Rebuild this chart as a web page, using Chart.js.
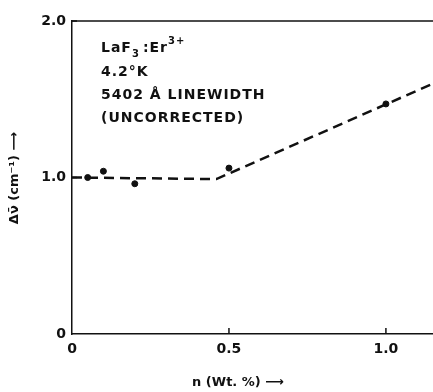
<!DOCTYPE html>
<html>
<head>
<meta charset="utf-8">
<script src="https://cdn.jsdelivr.net/npm/chart.js@4.4.0/dist/chart.umd.min.js"></script>
<style>
  html, body { margin: 0; padding: 0; background: #fff; }
  #wrap { width: 433px; height: 392px; position: relative; }
</style>
</head>
<body>
<div id="wrap"><canvas id="chart"></canvas></div>
<script>
// LaF3:Er3+ linewidth vs concentration

const concentration = [0.05, 0.1, 0.2, 0.5, 1.0];   // n (Wt.%)
const linewidth = [1.0, 1.04, 0.96, 1.06, 1.47];     // cm^-1
const fitX = [0, 0.46, 1.15];
const fitY = [1.0, 0.99, 1.6];
const xTicks = [0, 0.5, 1.0];
const yTicks = [0, 1.0, 2.0];
const noteLines = ['4.2°K', '5402 Å LINEWIDTH', '(UNCORRECTED)'];

const FONT = 'DejaVu Sans';

const pointData = concentration.map((x, i) => ({ x: x, y: linewidth[i] }));
const fitData = fitX.map((x, i) => ({ x: x, y: fitY[i] }));

// frame, inward ticks, annotation and axis titles
const decorPlugin = {
    id: 'decor',
    afterDraw(chart) {
        const ctx = chart.ctx;
        const area = chart.chartArea;
        const xs = chart.scales.x;
        const ys = chart.scales.y;

        ctx.save();
        ctx.strokeStyle = '#111';
        ctx.lineWidth = 1.5;

        // top frame line
        ctx.beginPath();
        ctx.moveTo(area.left, area.top);
        ctx.lineTo(area.right, area.top);
        ctx.stroke();

        // inward tick marks
        xTicks.forEach(v => {
            if (v === 0) return;
            const px = xs.getPixelForValue(v);
            ctx.beginPath();
            ctx.moveTo(px, area.bottom);
            ctx.lineTo(px, area.bottom - 6);
            ctx.stroke();
        });
        yTicks.forEach(v => {
            if (v === 0) return;
            const py = ys.getPixelForValue(v);
            ctx.beginPath();
            ctx.moveTo(area.left, py);
            ctx.lineTo(area.left + 5, py);
            ctx.stroke();
        });

        // annotation
        ctx.fillStyle = '#111';
        ctx.textBaseline = 'alphabetic';
        ctx.textAlign = 'left';
        ctx.letterSpacing = '1px';
        ctx.font = 'bold 14px ' + FONT;
        let tx = 101;
        ctx.fillText('LaF', tx, 52);
        tx += ctx.measureText('LaF').width;
        ctx.font = 'bold 10px ' + FONT;
        ctx.fillText('3', tx, 57);
        tx += ctx.measureText('3').width + 3;
        ctx.font = 'bold 14px ' + FONT;
        ctx.fillText(':Er', tx, 52);
        tx += ctx.measureText(':Er').width;
        ctx.font = 'bold 10px ' + FONT;
        ctx.fillText('3+', tx, 44);

        ctx.font = 'bold 14px ' + FONT;
        noteLines.forEach((t, i) => {
            ctx.fillText(t, 101, 76 + i * 23);
        });
        ctx.letterSpacing = '0px';

        // x axis title
        ctx.textAlign = 'center';
        ctx.textBaseline = 'middle';
        ctx.font = 'bold 13px ' + FONT;
        ctx.fillText('n (Wt. %) \u27F6', 238, 383);

        // y axis title
        ctx.save();
        ctx.translate(15, 178);
        ctx.rotate(-Math.PI / 2);
        ctx.fillText('\u0394\u03BD\u0304 (cm\u207B\u00B9) \u27F6', 0, 0);
        ctx.restore();

        ctx.restore();
    }
};

new Chart(document.getElementById('chart'), {
    type: 'scatter',
    data: {
        datasets: [
            {
                type: 'line',
                data: fitData,
                borderColor: '#111',
                borderWidth: 2.5,
                borderDash: [10, 6],
                pointRadius: 0,
                fill: false,
                tension: 0
            },
            {
                data: pointData,
                backgroundColor: '#111',
                borderColor: '#111',
                pointRadius: 3,
                pointHoverRadius: 3
            }
        ]
    },
    options: {
        responsive: true,
        maintainAspectRatio: false,
        animation: false,
        layout: { autoPadding: false, padding: { top: 21, right: 0, left: 0, bottom: 0 } },
        plugins: {
            legend: { display: false },
            tooltip: { enabled: false }
        },
        scales: {
            x: {
                type: 'linear',
                min: 0,
                max: 1.15,
                afterBuildTicks: s => { s.ticks = xTicks.map(v => ({ value: v })); },
                afterFit: s => { s.height = 58; s.paddingRight = 0; s.paddingLeft = 0; },
                grid: { display: false, drawTicks: false },
                border: { display: true, color: '#111', width: 1.5 },
                ticks: {
                    color: '#111',
                    padding: 7,
                    maxRotation: 0,
                    font: { family: FONT, size: 14, weight: 'bold' },
                    callback: v => v === 0 ? '0' : v.toFixed(1)
                }
            },
            y: {
                type: 'linear',
                min: 0,
                max: 2.0,
                afterBuildTicks: s => { s.ticks = yTicks.map(v => ({ value: v })); },
                afterFit: s => { s.width = 72; },
                grid: { display: false, drawTicks: false },
                border: { display: true, color: '#111', width: 1.5 },
                ticks: {
                    color: '#111',
                    padding: 6,
                    font: { family: FONT, size: 14, weight: 'bold' },
                    callback: v => v === 0 ? '0' : v.toFixed(1)
                }
            }
        }
    },
    plugins: [decorPlugin]
});
</script>
</body>
</html>
